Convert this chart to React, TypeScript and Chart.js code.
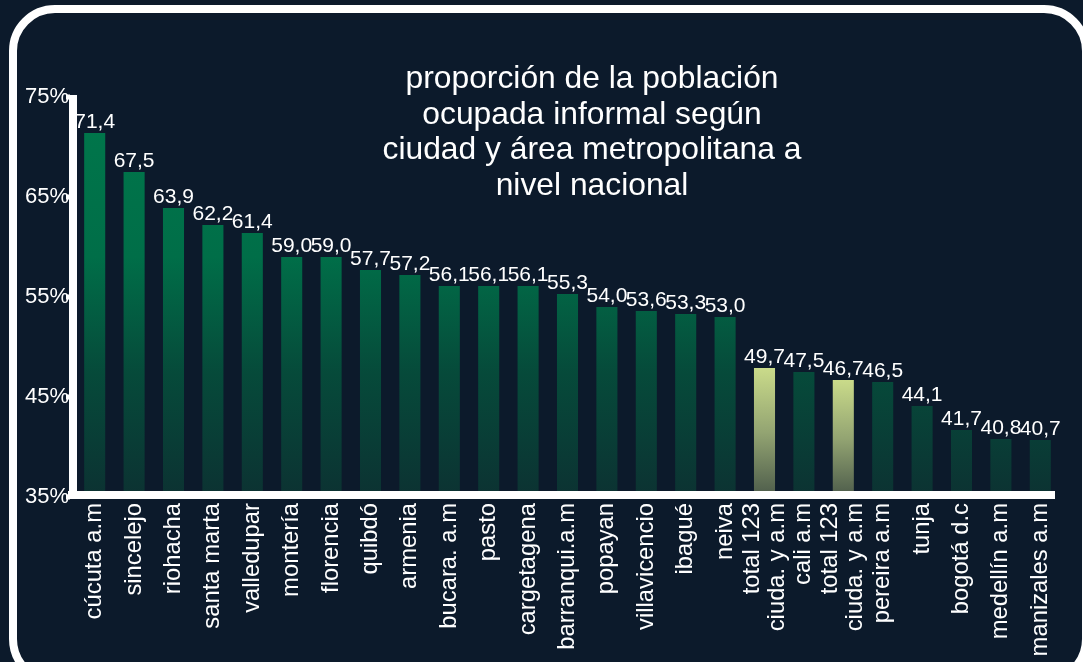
import React, { useEffect, useRef } from "react";
import { Chart, registerables } from "chart.js";

Chart.register(...registerables);

const categories = [
  "cúcuta a.m",
  "sincelejo",
  "riohacha",
  "santa marta",
  "valledupar",
  "montería",
  "florencia",
  "quibdó",
  "armenia",
  "bucara. a.m",
  "pasto",
  "cargetagena",
  "barranqui.a.m",
  "popayan",
  "villavicencio",
  "ibagué",
  "neiva",
  "total 123\nciuda. y a.m",
  "cali a.m",
  "total 123\nciuda. y a.m",
  "pereira a.m",
  "tunja",
  "bogotá d.c",
  "medellín a.m",
  "manizales a.m",
];

// bar heights as drawn in the picture
const values = [
  71.4, 67.5, 63.9, 62.2, 61.4, 59.0, 59.0, 57.7, 57.2, 56.1, 56.1, 56.1, 55.3,
  54.0, 53.6, 53.3, 53.0, 47.9, 47.5, 46.7, 46.5, 44.1, 41.7, 40.8, 40.7,
];

// value labels as printed above the bars
const valueLabels = [
  "71,4", "67,5", "63,9", "62,2", "61,4", "59,0", "59,0", "57,7", "57,2",
  "56,1", "56,1", "56,1", "55,3", "54,0", "53,6", "53,3", "53,0", "49,7",
  "47,5", "46,7", "46,5", "44,1", "41,7", "40,8", "40,7",
];

const yMin = 35;
const yMax = 75;
const yStep = 10;

const titleLines = [
  "proporción de la población",
  "ocupada informal según",
  "ciudad y área metropolitana a",
  "nivel nacional",
];

const FONT = '"Liberation Sans", Arial, Helvetica, sans-serif';

const overlayPlugin = {
  id: "overlay",
  afterDraw(chart: any) {
    const ctx = chart.ctx as CanvasRenderingContext2D;
    const ca = chart.chartArea;
    const xs = chart.scales.x;
    const ys = chart.scales.y;
    ctx.save();

    // axis lines
    ctx.fillStyle = "#ffffff";
    const yTop = ys.getPixelForValue(yMax);
    ctx.fillRect(ca.left - 6, yTop - 2, 8, ca.bottom + 2 - (yTop - 2));
    ctx.fillRect(ca.left - 7, ca.bottom - 6, ca.right - 5 - (ca.left - 7), 8);
    for (let v = yMin; v <= yMax; v += yStep) {
      const py = ys.getPixelForValue(v);
      ctx.fillRect(ca.left - 9, py - 2.5, 4, 5);
    }

    // x labels (rotated, multi-line centred on the tick)
    ctx.font = `23.8px ${FONT}`;
    ctx.fillStyle = "#ffffff";
    const lh = 25;
    categories.forEach((cat, i) => {
      const lines = cat.split("\n");
      const n = lines.length;
      const px = xs.getPixelForValue(i);
      lines.forEach((line, j) => {
        const cx = px + (j - (n - 1) / 2) * lh;
        ctx.save();
        ctx.translate(cx, ca.bottom + 6);
        ctx.rotate(-Math.PI / 2);
        ctx.textAlign = "right";
        ctx.textBaseline = "middle";
        ctx.fillText(line, 0, 0);
        ctx.restore();
      });
    });

    // value labels
    const meta = chart.getDatasetMeta(0);
    ctx.font = `21px ${FONT}`;
    ctx.textAlign = "center";
    ctx.textBaseline = "alphabetic";
    meta.data.forEach((bar: any, i: number) => {
      ctx.fillText(valueLabels[i], bar.x, bar.y - 5);
    });

    // title
    ctx.font = `31.8px ${FONT}`;
    ctx.textAlign = "center";
    titleLines.forEach((t, i) => {
      ctx.fillText(t, 592, 88 + i * 35.7);
    });

    ctx.restore();
  },
};

function barColor(ctx: any) {
  const chart = ctx.chart;
  const ca = chart.chartArea;
  if (!ca) return "#006e48";
  const c = chart.ctx as CanvasRenderingContext2D;
  const idx = ctx.dataIndex;
  const highlight = categories[idx] && categories[idx].startsWith("total");
  if (highlight) {
    const top = chart.scales.y.getPixelForValue(values[idx]);
    const g = c.createLinearGradient(0, top, 0, ca.bottom);
    g.addColorStop(0, "#cadb8a");
    g.addColorStop(0.5, "#93a472");
    g.addColorStop(1, "#4c5b4a");
    return g;
  }
  const g = c.createLinearGradient(0, ca.top, 0, ca.bottom);
  g.addColorStop(0, "#00774b");
  g.addColorStop(0.4, "#006e48");
  g.addColorStop(0.53, "#035e42");
  g.addColorStop(0.69, "#064a3a");
  g.addColorStop(0.86, "#093d36");
  g.addColorStop(1, "#0c3232");
  return g;
}

export default function App() {
  const canvasRef = useRef<HTMLCanvasElement | null>(null);

  useEffect(() => {
    if (!canvasRef.current) return;
    const chart = new Chart(canvasRef.current, {
      type: "bar",
      data: {
        labels: categories,
        datasets: [
          {
            data: values,
            backgroundColor: barColor as any,
            borderWidth: 0,
            barPercentage: 0.535,
            categoryPercentage: 1,
          },
        ],
      },
      options: {
        animation: false,
        responsive: false,
        devicePixelRatio: 1,
        layout: { padding: { left: 0, top: 97, right: 23, bottom: 165 } },
        plugins: {
          legend: { display: false },
          tooltip: { enabled: false },
          title: { display: false },
        },
        scales: {
          x: {
            grid: { display: false },
            border: { display: false },
            ticks: { display: false },
            afterFit: (s: any) => {
              s.height = 0;
            },
          },
          y: {
            min: yMin,
            max: yMax,
            grid: { display: false, drawTicks: false },
            border: { display: false },
            ticks: {
              stepSize: yStep,
              padding: 6,
              color: "#ffffff",
              font: { size: 22, family: FONT },
              callback: (v: any) => `${v}%`,
            },
            afterFit: (s: any) => {
              s.width = 75;
            },
          },
        },
      },
      plugins: [overlayPlugin],
    });
    return () => chart.destroy();
  }, []);

  return (
    <div
      style={{
        position: "fixed",
        left: 0,
        top: 0,
        width: 1083,
        height: 662,
        overflow: "hidden",
        background: "#0c1a2b",
      }}
    >
      <div
        style={{
          position: "absolute",
          left: 9,
          top: 5,
          width: 1081,
          height: 680,
          boxSizing: "border-box",
          border: "8px solid #ffffff",
          borderRadius: 46,
        }}
      />
      <canvas
        ref={canvasRef}
        width={1083}
        height={662}
        style={{ position: "absolute", left: 0, top: 0, width: 1083, height: 662 }}
      />
    </div>
  );
}
